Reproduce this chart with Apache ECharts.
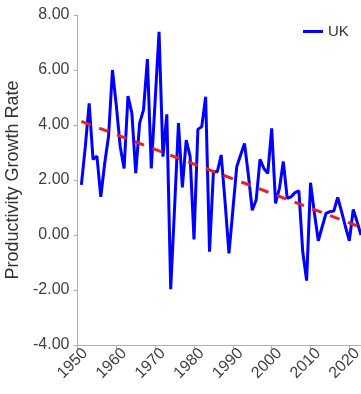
<!DOCTYPE html>
<html>
<head>
<meta charset="utf-8">
<script src="https://cdn.jsdelivr.net/npm/echarts@6/dist/echarts.min.js"></script>
<style>
html,body{margin:0;padding:0;background:#fff;}
#chart{width:361px;height:394px;}
</style>
</head>
<body>
<div id="chart"></div>
<script>
const years = [1951,1952,1953,1954,1955,1956,1957,1958,1959,1960,
  1961,1962,1963,1964,1965,1966,1967,1968,1969,1970,
  1971,1972,1973,1974,1975,1976,1977,1978,1979,1980,
  1981,1982,1983,1984,1985,1986,1987,1988,1989,1990,
  1991,1992,1993,1994,1995,1996,1997,1998,1999,2000,
  2001,2002,2003,2004,2005,2006,2007,2008,2009,2010,
  2011,2012,2013,2014,2015,2016,2017,2018,2019,2020,
  2021,2022,2023];
const ukGrowth = [1.82,3.2,4.79,2.75,2.87,1.39,2.6,3.6,6.0,4.7,
  3.21,2.42,5.05,4.43,2.25,4.07,4.55,6.4,2.42,4.9,
  7.39,2.85,4.39,-1.97,1.0,4.07,1.73,3.45,2.85,-0.16,
  3.84,3.94,5.03,-0.61,2.30,2.30,2.91,1.2,-0.67,0.9,
  2.48,2.91,3.33,2.18,0.9,1.27,2.75,2.42,2.24,3.88,
  1.15,1.7,2.67,1.33,1.39,1.54,1.61,-0.61,-1.66,1.90,
  0.8,-0.21,0.30,0.79,0.85,0.87,1.37,0.85,0.3,-0.21,
  0.93,0.48,0.0];
const trendYears = [1951, 2023];
const trendValues = [4.13, 0.28];
const xTickYears = [1950,1960,1970,1980,1990,2000,2010,2020];
const yTicks = [-4,-2,0,2,4,6,8];

const font = '"Liberation Sans", Arial, sans-serif';
const chart = echarts.init(document.getElementById('chart'), null, {renderer:'canvas'});
chart.setOption({
  animation:false,
  grid:{left:77.5, right:0, top:15, bottom:49, containLabel:false, outerBoundsMode:'none'},
  legend:{
    data:[{name:'UK', icon:'rect'}],
    left:298, top:19, itemWidth:20, itemHeight:3, itemGap:4,
    textStyle:{fontFamily:font, fontSize:15, color:'#333'}
  },
  xAxis:{
    type:'value', min:1950, max:2023,
    axisLine:{show:true, onZero:false, lineStyle:{color:'#b0b0b0', width:1}},
    axisTick:{show:true, length:4, customValues:xTickYears, lineStyle:{color:'#b0b0b0'}},
    axisLabel:{customValues:xTickYears, rotate:45, margin:-2, verticalAlign:'top', lineHeight:22,
      fontFamily:font, fontSize:16, color:'#404040', formatter:v=>String(v)},
    splitLine:{show:false}
  },
  yAxis:{
    type:'value', min:-4, max:8, interval:2,
    name:'Productivity Growth Rate', nameLocation:'middle', nameGap:53,
    nameTextStyle:{fontFamily:font, fontSize:18, color:'#333'},
    axisLine:{show:true, onZero:false, lineStyle:{color:'#b0b0b0', width:1}},
    axisTick:{show:true, length:4, customValues:yTicks, lineStyle:{color:'#b0b0b0'}},
    axisLabel:{margin:8, customValues:yTicks, fontFamily:font, fontSize:16, color:'#404040', formatter:v=>v.toFixed(2)},
    splitLine:{show:false}
  },
  series:[
    {
      name:'UK', type:'line', showSymbol:false, symbol:'none',
      data: years.map((y,i)=>[y, ukGrowth[i]]),
      lineStyle:{color:'#0000ff', width:3}, itemStyle:{color:'#0000ff'}, z:2
    },
    {
      name:'Trend', type:'line', showSymbol:false, symbol:'none',
      data: trendYears.map((y,i)=>[y, trendValues[i]]),
      lineStyle:{color:'#e8202a', width:3, type:[10,9]}, z:3
    }
  ]
});
</script>
</body>
</html>
